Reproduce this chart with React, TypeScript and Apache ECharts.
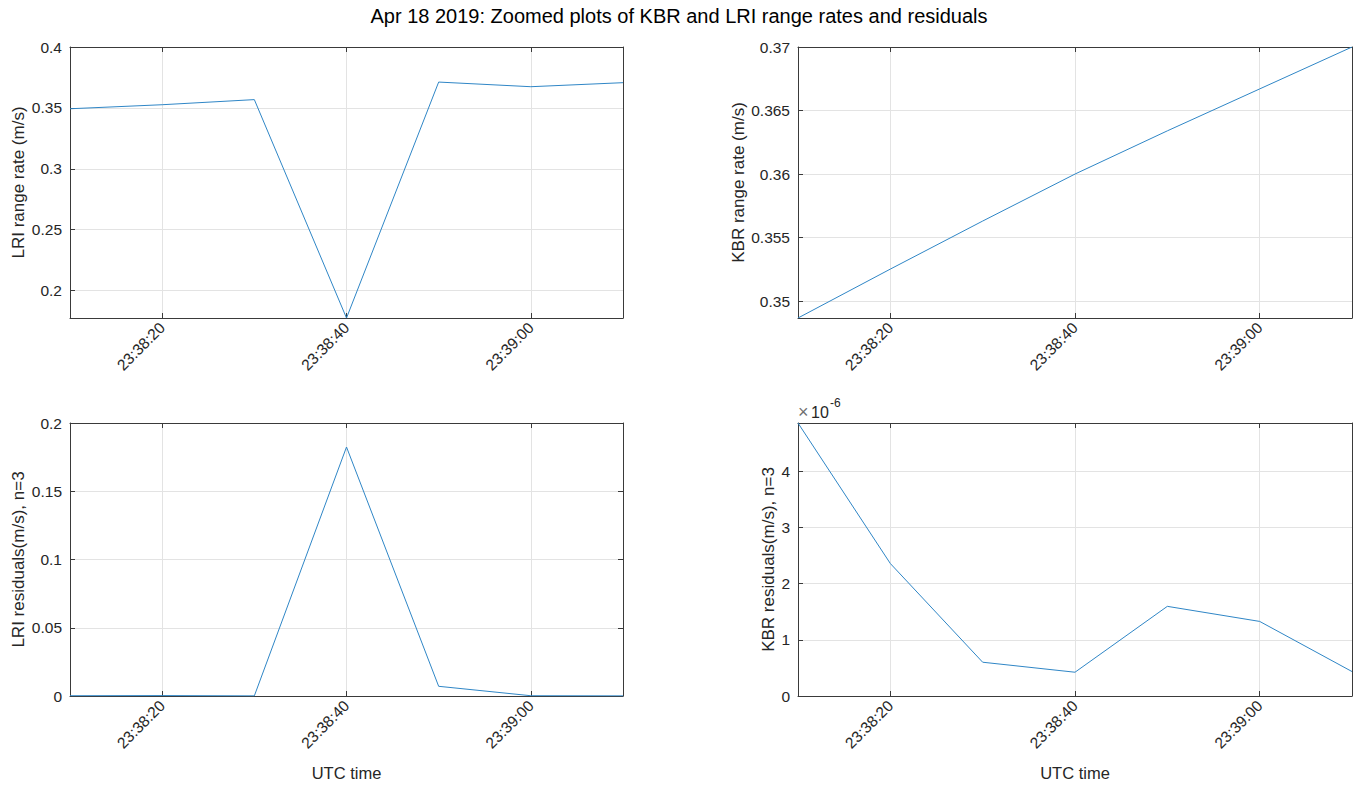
import React, { useEffect, useRef } from "react";
import * as echarts from "echarts";

const titleText = "Apr 18 2019: Zoomed plots of KBR and LRI range rates and residuals";
const sampleTimes = ["23:38:10", "23:38:20", "23:38:30", "23:38:40", "23:38:50", "23:39:00", "23:39:10"];
const tickTimes = ["23:38:20", "23:38:40", "23:39:00"];
const lriRangeRate = [0.3493, 0.3526, 0.3568, 0.1775, 0.3712, 0.3674, 0.3707];
const kbrRangeRate = [0.34867, 0.35252, 0.3563, 0.36, 0.3634, 0.3667, 0.37];
const lriResiduals = [0.0002, 0.0003, 0.0001, 0.1824, 0.0071, 0.0002, 0.0001];
const kbrResidualsMicro = [4.857, 2.357, 0.601, 0.423, 1.595, 1.327, 0.435];
const lriRateTicks = [0.2, 0.25, 0.3, 0.35, 0.4];
const kbrRateTicks = [0.35, 0.355, 0.36, 0.365, 0.37];
const lriResTicks = [0, 0.05, 0.1, 0.15, 0.2];
const kbrResTicks = [0, 1, 2, 3, 4];

const toSec = (s: string) => {
  const [h, m, sec] = s.split(":").map(Number);
  return h * 3600 + m * 60 + sec;
};
const pad = (n: number) => (n < 10 ? "0" : "") + n;
const fmtTime = (v: number) => {
  const t = Math.round(v);
  return pad(Math.floor(t / 3600)) + ":" + pad(Math.floor((t % 3600) / 60)) + ":" + pad(t % 60);
};

const FONT = "Liberation Sans, Arial, Helvetica, sans-serif";
const TXT = "#262626";
const AXC = "#3a3a3a";
const GRIDC = "#e3e3e3";
const LINEC = "#2f86c6";

export default function App() {
  const ref = useRef<HTMLDivElement>(null);
  useEffect(() => {
    document.body.style.margin = "0";
    if (!ref.current) return;
    const chart = echarts.init(ref.current, undefined, { renderer: "svg" });
    const xs = sampleTimes.map(toSec);
    const xTicks = tickTimes.map(toSec);
    const xMin = xs[0];
    const xMax = xs[xs.length - 1];

    const grids = [
      { left: 70, top: 47, width: 553, height: 271 },
      { left: 798, top: 47, width: 554, height: 271 },
      { left: 70, top: 423, width: 553, height: 273 },
      { left: 798, top: 423, width: 554, height: 273 },
    ];
    const panels = [
      { data: lriRangeRate, ticks: lriRateTicks, min: "dataMin", max: 0.4, name: "LRI range rate (m/s)", gap: 43, xname: "" },
      { data: kbrRangeRate, ticks: kbrRateTicks, min: "dataMin", max: "dataMax", name: "KBR range rate (m/s)", gap: 50, xname: "" },
      { data: lriResiduals, ticks: lriResTicks, min: 0, max: 0.2, name: "LRI residuals(m/s), n=3", gap: 43, xname: "UTC time" },
      { data: kbrResidualsMicro, ticks: kbrResTicks, min: 0, max: "dataMax", name: "KBR residuals(m/s), n=3", gap: 19, xname: "UTC time" },
    ];

    const xAxis: any[] = [];
    const yAxis: any[] = [];
    const series: any[] = [];
    panels.forEach((p, i) => {
      xAxis.push({
        type: "value",
        gridIndex: i,
        position: "bottom",
        min: xMin,
        max: xMax,
        name: p.xname,
        nameLocation: "middle",
        nameGap: 68,
        nameTextStyle: { fontFamily: FONT, fontSize: 16.5, color: TXT },
        axisLine: { onZero: false, lineStyle: { color: AXC, width: 1 } },
        axisTick: { inside: true, length: 5, customValues: xTicks, lineStyle: { color: AXC } },
        axisLabel: {
          customValues: xTicks,
          rotate: 45,
          margin: 7,
          fontFamily: FONT,
          fontSize: 15.5,
          color: TXT,
          formatter: (v: number) => fmtTime(v),
        },
        splitLine: { show: true, lineStyle: { color: GRIDC, width: 1 } },
      });
      xAxis.push({
        type: "value",
        gridIndex: i,
        position: "top",
        min: xMin,
        max: xMax,
        axisLine: { onZero: false, lineStyle: { color: AXC, width: 1 } },
        axisTick: { inside: true, length: 5, customValues: xTicks, lineStyle: { color: AXC } },
        axisLabel: { show: false },
        splitLine: { show: false },
      });
      const yFmt = (v: number) => String(Number(v.toFixed(6)));
      yAxis.push({
        type: "value",
        gridIndex: i,
        position: "left",
        min: p.min,
        max: p.max,
        name: p.name,
        nameLocation: "middle",
        nameGap: p.gap,
        nameTextStyle: { fontFamily: FONT, fontSize: 17, color: TXT },
        axisLine: { show: true, onZero: false, lineStyle: { color: AXC, width: 1 } },
        axisTick: { show: true, inside: true, length: 5, customValues: p.ticks, lineStyle: { color: AXC } },
        axisLabel: { customValues: p.ticks, margin: 8, fontFamily: FONT, fontSize: 15.5, color: TXT, formatter: yFmt },
        splitLine: { show: true, lineStyle: { color: GRIDC, width: 1 } },
      });
      yAxis.push({
        type: "value",
        gridIndex: i,
        position: "right",
        min: p.min,
        max: p.max,
        axisLine: { show: true, onZero: false, lineStyle: { color: AXC, width: 1 } },
        axisTick: { show: true, inside: true, length: 5, customValues: p.ticks, lineStyle: { color: AXC } },
        axisLabel: { show: false },
        splitLine: { show: false },
      });
      series.push({
        type: "line",
        xAxisIndex: i * 2,
        yAxisIndex: i * 2,
        data: xs.map((x, k) => [x, p.data[k]]),
        showSymbol: false,
        symbol: "none",
        lineStyle: { color: LINEC, width: 1 },
        itemStyle: { color: LINEC },
        z: 3,
      });
    });

    chart.setOption({
      animation: false,
      backgroundColor: "#ffffff",
      title: {
        text: titleText,
        left: "center",
        top: 1,
        textStyle: { fontFamily: FONT, fontSize: 20, fontWeight: "normal", color: "#000000" },
      },
      grid: grids.map((g) => ({ ...g, containLabel: false })),
      xAxis,
      yAxis,
      series,
      graphic: [
        { type: "text", left: 798, top: 403, style: { text: "×", fontFamily: FONT, fontSize: 18, fill: "#707070" } },
        { type: "text", left: 811, top: 404, style: { text: "10", fontFamily: FONT, fontSize: 16, fill: TXT } },
        { type: "text", left: 830, top: 397, style: { text: "-6", fontFamily: FONT, fontSize: 12, fill: TXT } },
      ],
    });
    return () => chart.dispose();
  }, []);
  return <div ref={ref} style={{ width: 1358, height: 785 }} />;
}
